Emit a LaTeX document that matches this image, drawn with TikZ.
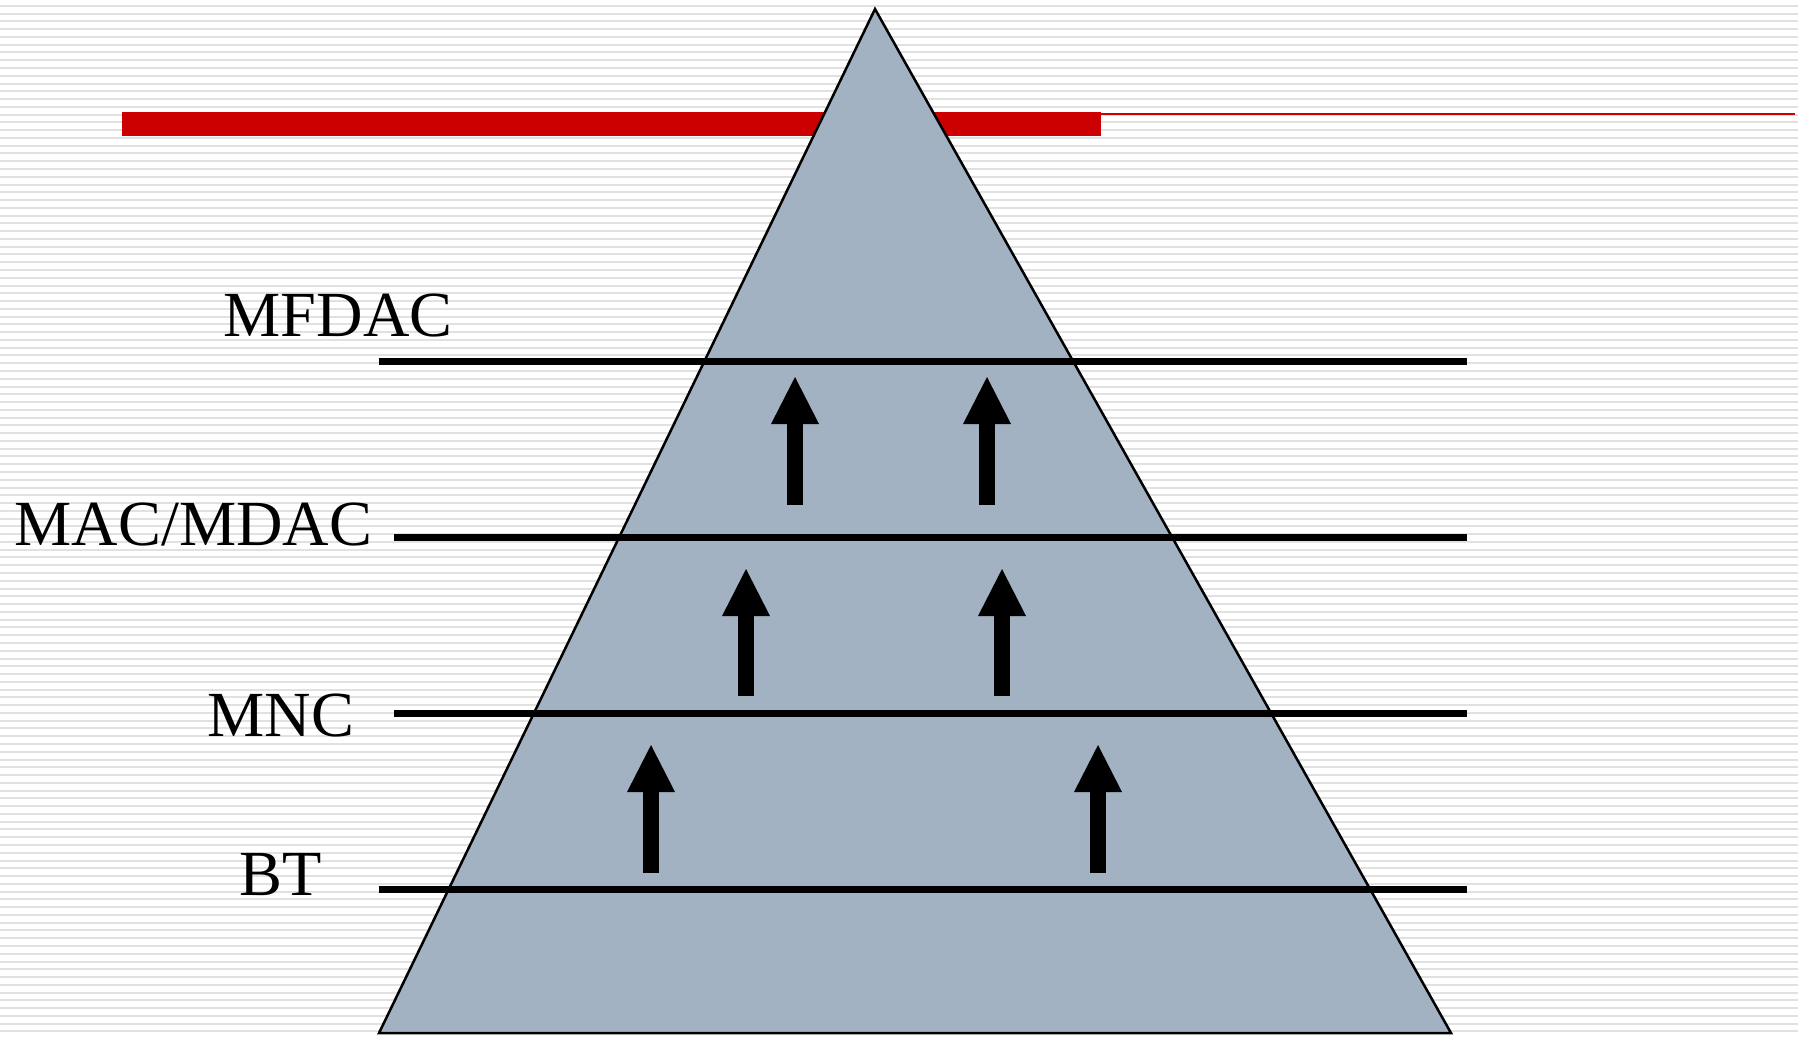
\documentclass[tikz,border=0pt]{standalone}
\usepackage{fontspec}
\setmainfont{Liberation Serif}
\usetikzlibrary{positioning,arrows.meta}

\definecolor{pyrfill}{RGB}{162,178,194}
\definecolor{barred}{RGB}{204,0,0}
\definecolor{stripe}{RGB}{225,225,225}

\begin{document}
\begin{tikzpicture}[x=0.1mm,y=-0.1mm,
    level/.style={line width=0.7mm},
    uparr/.style={line width=1.6mm, -{Triangle[length=4.7mm,width=4.8mm,line width=0pt]}},
    lab/.style={anchor=base west, inner sep=0pt, font=\fontsize{18.3}{22}\selectfont}]
    \useasboundingbox (0,0) rectangle (1798,1037);

    % ruled background
    \foreach \k in {0,...,133}
        \draw[stripe, line width=0.2mm] (0,{5.8+7.77*\k}) -- (1798,{5.8+7.77*\k});

    % red title rule
    \fill[barred] (122,112) rectangle (1101,136);
    \fill[barred] (1101,112.5) rectangle (1795,115);

    % pyramid
    \draw[fill=pyrfill, line width=0.25mm] (875,9) -- (1451,1033) -- (379,1033) -- cycle;

    % levels
    \draw[level] (379,361) -- (1467,361);
    \draw[level] (394,537) -- (1467,537);
    \draw[level] (394,713) -- (1467,713);
    \draw[level] (379,889) -- (1467,889);

    \node[lab] (mfdac) at (223,336) {MFDAC};
    \node[lab] (macmdac) at (14,545) {MAC/MDAC};
    \node[lab] (mnc) at (207,736) {MNC};
    \node[lab] (bt) at (239,895) {BT};

    % upward arrows
    \coordinate (a1s) at (795,505);  \coordinate (a1e) at (795,377);
    \coordinate (a2s) at (987,505);  \coordinate (a2e) at (987,377);
    \coordinate (b1s) at (746,696);  \coordinate (b1e) at (746,569);
    \coordinate (b2s) at (1002,696); \coordinate (b2e) at (1002,569);
    \coordinate (c1s) at (651,873);  \coordinate (c1e) at (651,745);
    \coordinate (c2s) at (1098,873); \coordinate (c2e) at (1098,745);
    \draw[uparr] (a1s) -- (a1e);
    \draw[uparr] (a2s) -- (a2e);
    \draw[uparr] (b1s) -- (b1e);
    \draw[uparr] (b2s) -- (b2e);
    \draw[uparr] (c1s) -- (c1e);
    \draw[uparr] (c2s) -- (c2e);
\end{tikzpicture}
\end{document}
